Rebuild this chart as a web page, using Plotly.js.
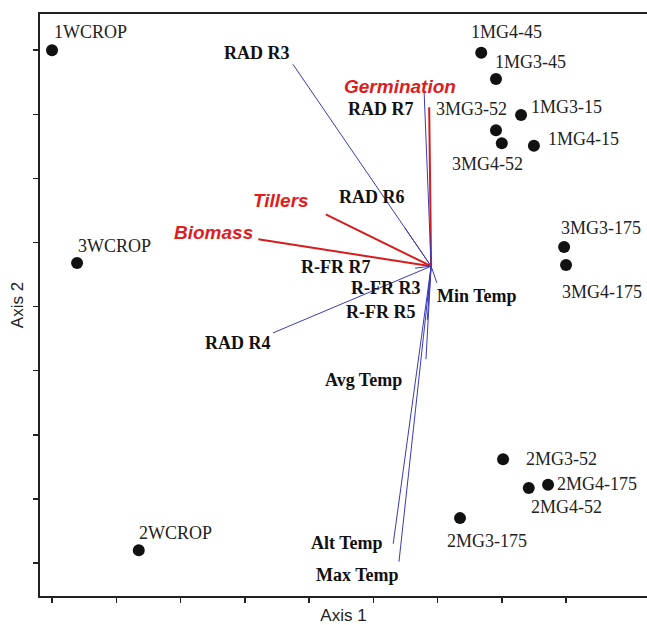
<!DOCTYPE html>
<html>
<head>
<meta charset="utf-8">
<script src="https://cdn.plot.ly/plotly-3.0.1.min.js"></script>
<style>html,body{margin:0;padding:0;background:#fff;}</style>
</head>
<body>
<div id="chart" style="width:647px;height:625px;"></div>
<script>
// ---- Site scores (points) ----
const siteNames = ["1WCROP","3WCROP","2WCROP","1MG4-45","1MG3-45","1MG3-15","3MG3-52","3MG4-52","1MG4-15",
                   "3MG3-175","3MG4-175","2MG3-52","2MG4-52","2MG4-175","2MG3-175"];
const siteX = [0.00, 0.39, 1.35, 6.68, 6.91, 7.30, 6.91, 7.00, 7.50, 7.97, 8.00, 7.02, 7.42, 7.72, 6.35];
const siteY = [8.00, 4.68, 0.20, 7.96, 7.55, 6.99, 6.75, 6.55, 6.51, 4.93, 4.65, 1.62, 1.17, 1.22, 0.70];
// label offsets (px) relative to each point: style only
const siteLabelDX = [38, 37, 37, 25, 34, 45, -25, -14, 50, 37, 36, 58, 38, 49, 27];
const siteLabelDY = [18, 17, 17, 21, 17, 8, 21, -21, 7, 19, -27, 0, -19, 1, -23];

// ---- Biplot vectors ----
const originX = 5.90, originY = 4.63;
const vecNames = ["RAD R3","Germination","RAD R7","RAD R6","Tillers","Biomass","R-FR R7","R-FR R3","R-FR R5",
                  "Min Temp","RAD R4","Avg Temp","Alt Temp","Max Temp"];
const vecGroup = ["env","resp","env","env","resp","resp","env","env","env","env","env","env","env","env"];
const vecX = [3.75, 5.87, 5.79, 5.49, 4.26, 3.21, 5.65, 5.85, 5.84, 5.99, 3.44, 5.82, 5.31, 5.40];
const vecY = [7.78, 7.11, 7.38, 5.23, 5.44, 5.05, 4.60, 4.10, 3.79, 4.37, 3.59, 3.18, 0.30, 0.02];
const vecLabelX = [3.19, 5.42, 5.12, 4.98, 3.56, 2.52, 4.42, 5.20, 5.12, 6.61, 2.89, 4.84, 4.59, 4.75];
const vecLabelY = [7.96, 7.44, 7.08, 5.71, 5.66, 5.15, 4.62, 4.29, 3.92, 4.17, 3.43, 2.85, 0.31, -0.19];

const tickVals = [0,1,2,3,4,5,6,7,8];

const traces = [];
vecNames.forEach((n,i)=>{
  const red = vecGroup[i]==="resp";
  traces.push({
    type:"scatter", mode:"lines", x:[originX, vecX[i]], y:[originY, vecY[i]],
    line:{color: red ? "rgb(214,28,28)" : "rgb(58,58,185)", width: red ? 2 : 1},
    hoverinfo:"skip", showlegend:false
  });
});
traces.push({
  type:"scatter", mode:"markers", x:siteX, y:siteY, text:siteNames,
  marker:{color:"#111", size:12}, showlegend:false, hoverinfo:"text"
});

const annotations = [];
siteNames.forEach((n,i)=>{
  annotations.push({x:siteX[i], y:siteY[i], xref:"x", yref:"y", text:n, showarrow:false,
    xshift:siteLabelDX[i], yshift:siteLabelDY[i], xanchor:"center", yanchor:"middle",
    font:{family:"Liberation Serif, Times New Roman, serif", size:18, color:"#222"}});
});
vecNames.forEach((n,i)=>{
  const red = vecGroup[i]==="resp";
  annotations.push({x:vecLabelX[i], y:vecLabelY[i], xref:"x", yref:"y", text: red ? "<b><i>"+n+"</i></b>" : "<b>"+n+"</b>",
    showarrow:false, xanchor:"center", yanchor:"middle",
    font: red ? {family:"Liberation Sans, Arial, sans-serif", size:19, color:"rgb(225,28,28)"}
              : {family:"Liberation Serif, Times New Roman, serif", size:18, color:"#111"}});
});

const layout = {
  width:647, height:625,
  margin:{l:40, r:0, t:14, b:29},
  paper_bgcolor:"#fff", plot_bgcolor:"#fff",
  xaxis:{range:[-0.187, 9.26], tickvals:tickVals, showticklabels:false, ticks:"outside", ticklen:5,
         tickwidth:1.5, tickcolor:"#222", showline:true, linewidth:2, linecolor:"#222", mirror:true,
         showgrid:false, zeroline:false,
         title:{text:"Axis 1", standoff:10, font:{family:"Liberation Sans, Arial, sans-serif", size:17, color:"#222"}}},
  yaxis:{range:[-0.515, 8.565], tickvals:tickVals, showticklabels:false, ticks:"outside", ticklen:5,
         tickwidth:1.5, tickcolor:"#222", showline:true, linewidth:2, linecolor:"#222", mirror:false,
         showgrid:false, zeroline:false,
         title:{text:"Axis 2", standoff:5, font:{family:"Liberation Sans, Arial, sans-serif", size:17, color:"#222"}}},
  annotations:annotations
};
Plotly.newPlot("chart", traces, layout, {displayModeBar:false, staticPlot:true});
</script>
</body>
</html>
